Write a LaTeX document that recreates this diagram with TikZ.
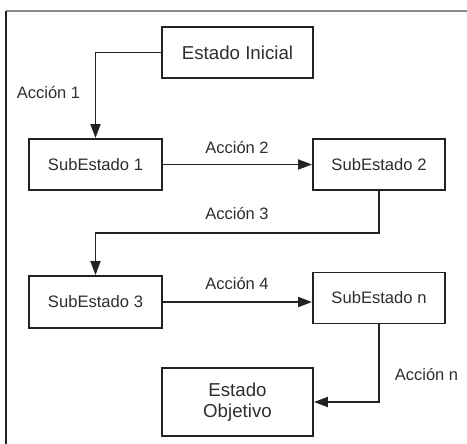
\documentclass[tikz,border=0pt]{standalone}
\usepackage{fontspec}
\setmainfont{Liberation Sans}
\usetikzlibrary{arrows.meta}
\definecolor{ink}{HTML}{222222}
\definecolor{txt}{HTML}{2E2E2E}
\definecolor{framegray}{HTML}{8A8A8A}
\tikzset{
  statebox/.style={draw=ink, line width=1.9pt, rectangle, inner sep=0pt, text=txt, align=center},
  bigbox/.style={statebox, minimum width=151pt, font=\fontsize{18.7}{22}\selectfont},
  subbox/.style={statebox, minimum width=133pt, minimum height=51pt, font=\fontsize{16.6}{20}\selectfont},
  conn/.style={draw=ink, line width=1.9pt, -{Triangle[length=14pt,width=10pt]}},
  lbl/.style={text=txt, inner sep=0pt, font=\fontsize{16.5}{20}\selectfont}
}
\begin{document}
\begin{tikzpicture}[x=1pt,y=-1pt]
\useasboundingbox (0,0) rectangle (467,444);
% frame
\coordinate (ftl) at (6,11);
\coordinate (ftr) at (467,11);
\coordinate (fbl) at (6,444);
\draw[framegray, line width=1.8pt] (ftl) -- (ftr);
\draw[ink, line width=1.8pt] (ftl) -- (fbl);
% states
\node[bigbox, minimum height=51pt] (ini) at (237.5,52.5) {Estado Inicial};
\node[subbox] (s1) at (95.5,164.5) {SubEstado 1};
\node[subbox, minimum width=132pt] (s2) at (379,164.5) {SubEstado 2};
\node[subbox, minimum height=52pt] (s3) at (95.5,302) {SubEstado 3};
\node[subbox, minimum width=132pt] (sn) at (379,298) {SubEstado n};
\node[bigbox, minimum height=68pt] (obj) at (237.5,402) {Estado\\[-1pt]Objetivo};
% connectors
\coordinate (c3) at (379,233);
\draw[conn] (ini.west) -| (s1.north);
\draw[conn] (s1.east) -- (s2.west);
\draw[conn] (s2.south) -- (c3) -| (s3.north);
\draw[conn] (s3.east) -- (s3.east -| sn.west);
\draw[conn] (sn.south) |- (obj.east);
% labels
\node[lbl] (l1) at (48.5,93) {Acción 1};
\node[lbl] (l2) at (237,148) {Acción 2};
\node[lbl] (l3) at (237,214) {Acción 3};
\node[lbl] (l4) at (237,284) {Acción 4};
\node[lbl] (ln) at (426.5,375) {Acción n};
\end{tikzpicture}
\end{document}
